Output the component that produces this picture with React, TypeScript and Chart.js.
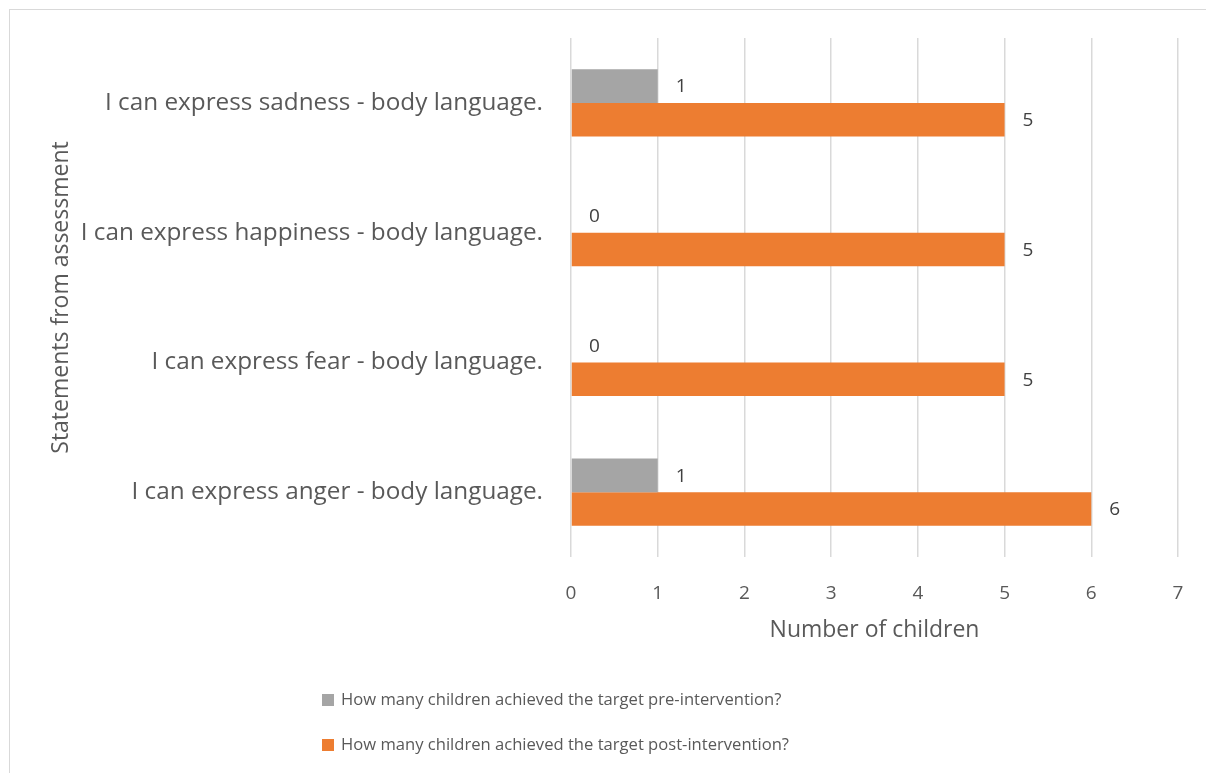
import React, { useEffect, useRef } from "react";
import { Chart, registerables } from "chart.js";

Chart.register(...registerables);

const categories = [
  "I can express sadness - body language.",
  "I can express happiness - body language.",
  "I can express fear - body language.",
  "I can express anger - body language.",
];
const preValues = [1, 0, 0, 1];
const postValues = [5, 5, 5, 6];
const seriesNames = [
  "How many children achieved the target pre-intervention?",
  "How many children achieved the target post-intervention?",
];
const seriesColors = ["#a5a5a5", "#ed7d31"];
const xTitle = "Number of children";
const yTitle = "Statements from assessment";

const FONT = "'Open Sans', sans-serif";
const TEXT = "#595959";

const framePlugin = {
  id: "frame",
  beforeDraw(chart: any) {
    const ctx = chart.ctx;
    ctx.save();
    ctx.fillStyle = "#ffffff";
    ctx.fillRect(0, 0, chart.width, chart.height);
    ctx.strokeStyle = "#d9d9d9";
    ctx.lineWidth = 1;
    ctx.strokeRect(9.5, 9.5, chart.width + 50, chart.height + 50);
    ctx.restore();
  },
};

const valueLabelPlugin = {
  id: "valueLabels",
  afterDatasetsDraw(chart: any) {
    const ctx = chart.ctx;
    ctx.save();
    ctx.font = `19px ${FONT}`;
    ctx.fillStyle = "#404040";
    ctx.textAlign = "left";
    ctx.textBaseline = "middle";
    chart.data.datasets.forEach((ds: any, i: number) => {
      const meta = chart.getDatasetMeta(i);
      meta.data.forEach((bar: any, j: number) => {
        ctx.fillText(String(ds.data[j]), bar.x + 18, bar.y + 1);
      });
    });
    ctx.restore();
  },
};

const legendPlugin = {
  id: "customLegend",
  afterDraw(chart: any) {
    const ctx = chart.ctx;
    ctx.save();
    ctx.font = `16.6px ${FONT}`;
    ctx.textAlign = "left";
    ctx.textBaseline = "middle";
    const rows = [700, 745];
    seriesNames.forEach((name, i) => {
      const y = rows[i];
      ctx.fillStyle = seriesColors[i];
      ctx.fillRect(322, y - 6, 12, 12);
      ctx.fillStyle = TEXT;
      ctx.fillText(name, 341, y);
    });
    ctx.restore();
  },
};

export default function App() {
  const ref = useRef<HTMLCanvasElement | null>(null);
  useEffect(() => {
    if (!ref.current) return;
    const chart = new Chart(ref.current, {
      type: "bar",
      data: {
        labels: categories,
        datasets: [
          {
            label: seriesNames[0],
            data: preValues,
            backgroundColor: seriesColors[0],
            categoryPercentage: 0.52,
            barPercentage: 1,
          },
          {
            label: seriesNames[1],
            data: postValues,
            backgroundColor: seriesColors[1],
            categoryPercentage: 0.52,
            barPercentage: 1,
          },
        ],
      },
      options: {
        indexAxis: "y",
        animation: false,
        responsive: false,
        devicePixelRatio: 1,
        layout: { padding: { top: 38, left: 10, right: 28, bottom: 116 } },
        plugins: {
          legend: { display: false },
          tooltip: { enabled: false },
        },
        scales: {
          x: {
            min: 0,
            max: 7,
            ticks: {
              stepSize: 1,
              padding: 25,
              color: TEXT,
              font: { family: FONT, size: 19 },
            },
            grid: { color: "#d9d9d9", drawTicks: false, lineWidth: 1.5 },
            border: { display: false },
            title: {
              display: true,
              text: xTitle,
              color: TEXT,
              font: { family: FONT, size: 23 },
              padding: { top: 0, bottom: 13 },
            },
            afterFit(scale: any) {
              scale.height = 100;
              scale.paddingLeft = 0;
              scale.paddingRight = 0;
            },
          },
          y: {
            ticks: {
              padding: 28,
              color: TEXT,
              font: { family: FONT, size: 24.3 },
            },
            grid: { display: false, drawTicks: false },
            border: { display: false },
            title: {
              display: true,
              text: yTitle,
              color: TEXT,
              font: { family: FONT, size: 23 },
              padding: { top: 38, bottom: 0 },
            },
            afterFit(scale: any) {
              scale.width = 561;
              scale.paddingTop = 0;
              scale.paddingBottom = 0;
            },
          },
        },
      },
      plugins: [framePlugin, valueLabelPlugin, legendPlugin],
    } as any);
    return () => chart.destroy();
  }, []);
  return (
    <div style={{ position: "absolute", left: 0, top: 0, width: 1206, height: 773 }}>
      <canvas ref={ref} width={1206} height={773} />
    </div>
  );
}
